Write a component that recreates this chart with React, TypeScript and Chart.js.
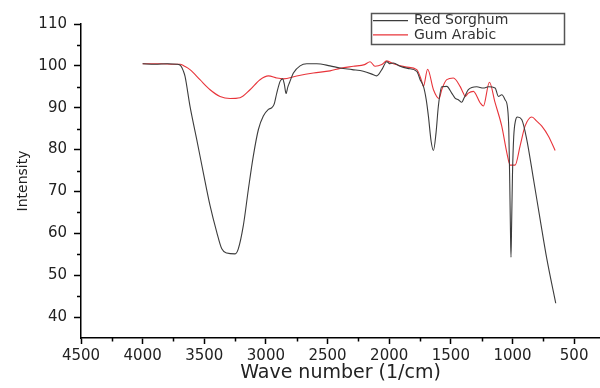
import React, { useEffect, useRef } from "react";
import { Chart, registerables } from "chart.js";

Chart.register(...registerables);

const seriesLabels = ["Red Sorghum", "Gum Arabic"];

const sorghumWave = [
  4000, 3900, 3800, 3720, 3690, 3670, 3656, 3616, 3561, 3508, 3453, 3399, 3358, 3318, 3250,
  3224, 3183, 3142, 3102, 3061, 3021, 2980, 2953, 2934, 2912, 2885, 2864, 2850, 2837, 2822,
  2810, 2777, 2723, 2669, 2588, 2480, 2398, 2300, 2210, 2128, 2101, 2060, 2020, 1993, 1966,
  1912, 1850, 1776, 1749, 1722, 1700, 1682, 1660, 1641, 1620, 1601, 1574, 1533, 1493, 1466,
  1439, 1411, 1393, 1358, 1290, 1236, 1195, 1141, 1114, 1087, 1060, 1040, 1030, 1022, 1016,
  1012, 1007, 1000, 990, 975, 960, 925, 884, 830, 776, 722, 649,
];
const sorghumIntensity = [
  100.5, 100.4, 100.5, 100.4, 100.0, 98.8, 97.5, 90.4, 82.4, 74.5, 66.6, 60.3, 56.3, 55.3, 55.1,
  56.3, 61.9, 70.6, 78.5, 84.8, 88.0, 89.6, 90.0, 90.8, 93.5, 96.3, 96.9, 95.5, 93.4, 95.0,
  95.9, 98.3, 100.0, 100.5, 100.5, 100.0, 99.5, 99.1, 98.7, 97.9, 97.6, 99.1, 101.0, 100.5, 100.7,
  99.9, 99.4, 98.7, 96.7, 95.1, 92.0, 88.0, 82.0, 79.8, 84.0, 90.4, 95.0, 95.1, 93.5, 92.3,
  91.9, 91.3, 92.3, 94.3, 95.0, 94.7, 95.0, 94.7, 92.7, 93.1, 91.9, 90.0, 85.0, 72.0, 60.0,
  54.3, 62.0, 74.0, 83.0, 87.0, 87.8, 87.2, 82.4, 73.0, 63.4, 54.0, 43.3,
];

const gumWave = [
  4000, 3850, 3750, 3697, 3660, 3616, 3535, 3453, 3372, 3291, 3210, 3129, 3048, 2980, 2912,
  2859, 2750, 2615, 2480, 2398, 2291, 2200, 2155, 2115, 2060, 2020, 1966, 1858, 1776, 1736,
  1723, 1688, 1641, 1595, 1574, 1533, 1479, 1425, 1399, 1384, 1358, 1317, 1263, 1236, 1187,
  1141, 1087, 1046, 1019, 979, 938, 898, 843, 803, 762, 708, 654,
];
const gumIntensity = [
  100.5, 100.5, 100.4, 100.4, 99.9, 99.1, 96.7, 94.3, 92.7, 92.2, 92.4, 94.3, 96.7, 97.6, 97.1,
  96.9, 97.6, 98.3, 98.8, 99.4, 99.9, 100.3, 101.0, 99.9, 100.3, 101.2, 100.5, 99.7, 99.1, 96.3,
  95.1, 99.2, 94.3, 92.2, 94.3, 96.7, 97.1, 95.1, 93.5, 92.7, 93.5, 93.9, 91.2, 90.4, 96.1,
  91.2, 85.6, 79.3, 76.3, 76.3, 80.9, 85.6, 87.8, 86.8, 85.6, 83.2, 79.8,
];

const xTicks = [4500, 4000, 3500, 3000, 2500, 2000, 1500, 1000, 500];
const xMinorTicks = [4250, 3750, 3250, 2750, 2250, 1750, 1250, 750];
const yTicks = [40, 50, 60, 70, 80, 90, 100, 110];
const yMinorTicks = [45, 55, 65, 75, 85, 95, 105];

const FONT = "'DejaVu Sans', sans-serif";

export default function App() {
  const ref = useRef<HTMLCanvasElement>(null);

  useEffect(() => {
    document.body.style.margin = "0";
    const canvas = ref.current;
    if (!canvas) return;

    const minorTicks = {
      id: "minorTicks",
      afterDraw(chart: any) {
        const { ctx, chartArea } = chart;
        const xs = chart.scales.x;
        const ys = chart.scales.y;
        ctx.save();
        ctx.strokeStyle = "#000";
        ctx.lineWidth = 1.5;
        ctx.beginPath();
        xMinorTicks.forEach((v) => {
          const px = Math.round(xs.getPixelForValue(v)) + 0.5;
          ctx.moveTo(px, chartArea.bottom);
          ctx.lineTo(px, chartArea.bottom + 3.5);
        });
        yMinorTicks.forEach((v) => {
          const py = Math.round(ys.getPixelForValue(v)) + 0.5;
          ctx.moveTo(chartArea.left, py);
          ctx.lineTo(chartArea.left - 4, py);
        });
        ctx.stroke();
        ctx.restore();
      },
    };

    const boxLegend = {
      id: "boxLegend",
      afterDraw(chart: any) {
        const { ctx } = chart;
        ctx.save();
        ctx.strokeStyle = "#555";
        ctx.lineWidth = 1.5;
        ctx.strokeRect(371.5, 13.5, 193, 31);
        chart.data.datasets.forEach((ds: any, i: number) => {
          const y = 20.7 + i * 14.2;
          ctx.strokeStyle = ds.borderColor;
          ctx.lineWidth = 1.2;
          ctx.beginPath();
          ctx.moveTo(373, y);
          ctx.lineTo(408, y);
          ctx.stroke();
          ctx.fillStyle = "#333";
          ctx.font = `14px ${FONT}`;
          ctx.textBaseline = "middle";
          ctx.textAlign = "left";
          ctx.fillText(ds.label, 414, y);
        });
        ctx.restore();
      },
    };

    const chart = new Chart(canvas, {
      type: "line",
      data: {
        datasets: [
          {
            label: seriesLabels[0],
            data: sorghumWave.map((x, i) => ({ x, y: sorghumIntensity[i] })),
            borderColor: "#3c3c3c",
            borderWidth: 1.1,
            pointRadius: 0,
            cubicInterpolationMode: "monotone",
          },
          {
            label: seriesLabels[1],
            data: gumWave.map((x, i) => ({ x, y: gumIntensity[i] })),
            borderColor: "#e8343a",
            borderWidth: 1.1,
            pointRadius: 0,
            cubicInterpolationMode: "monotone",
          },
        ],
      },
      options: {
        responsive: false,
        animation: false,
        layout: { padding: { top: 24, right: 0, left: 0, bottom: 0 } },
        plugins: {
          legend: { display: false },
          tooltip: { enabled: false },
        },
        scales: {
          x: {
            type: "linear",
            reverse: true,
            min: 290,
            max: 4500,
            afterFit: (s: any) => {
              s.height = 50;
            },
            afterBuildTicks: (s: any) => {
              s.ticks = xTicks.map((v) => ({ value: v }));
            },
            grid: {
              display: true,
              drawOnChartArea: false,
              drawTicks: true,
              tickLength: 6,
              tickWidth: 1.5,
              tickColor: "#000",
            },
            border: { display: true, color: "#000", width: 1.5 },
            ticks: {
              autoSkip: false,
              maxRotation: 0,
              padding: 3,
              color: "#222",
              font: { family: FONT, size: 15 },
              callback: (v: any) => String(v),
            },
            title: {
              display: true,
              text: "Wave number (1/cm)",
              color: "#222",
              font: { family: FONT, size: 19 },
              padding: { top: 0, bottom: 4 },
            },
          },
          y: {
            type: "linear",
            min: 35,
            max: 110,
            afterFit: (s: any) => {
              s.width = 81;
            },
            afterBuildTicks: (s: any) => {
              s.ticks = yTicks.map((v) => ({ value: v }));
            },
            grid: {
              display: true,
              drawOnChartArea: false,
              drawTicks: true,
              tickLength: 7,
              tickWidth: 1.5,
              tickColor: "#000",
            },
            border: { display: true, color: "#000", width: 1.5 },
            ticks: {
              autoSkip: false,
              padding: 7,
              color: "#222",
              font: { family: FONT, size: 15 },
            },
            title: {
              display: true,
              text: "Intensity",
              color: "#222",
              font: { family: FONT, size: 14 },
              padding: { top: 15, bottom: 0 },
            },
          },
        },
      },
      plugins: [minorTicks, boxLegend],
    });

    return () => chart.destroy();
  }, []);

  return (
    <canvas
      ref={ref}
      width={600}
      height={388}
      style={{ display: "block", width: 600, height: 388 }}
    />
  );
}
